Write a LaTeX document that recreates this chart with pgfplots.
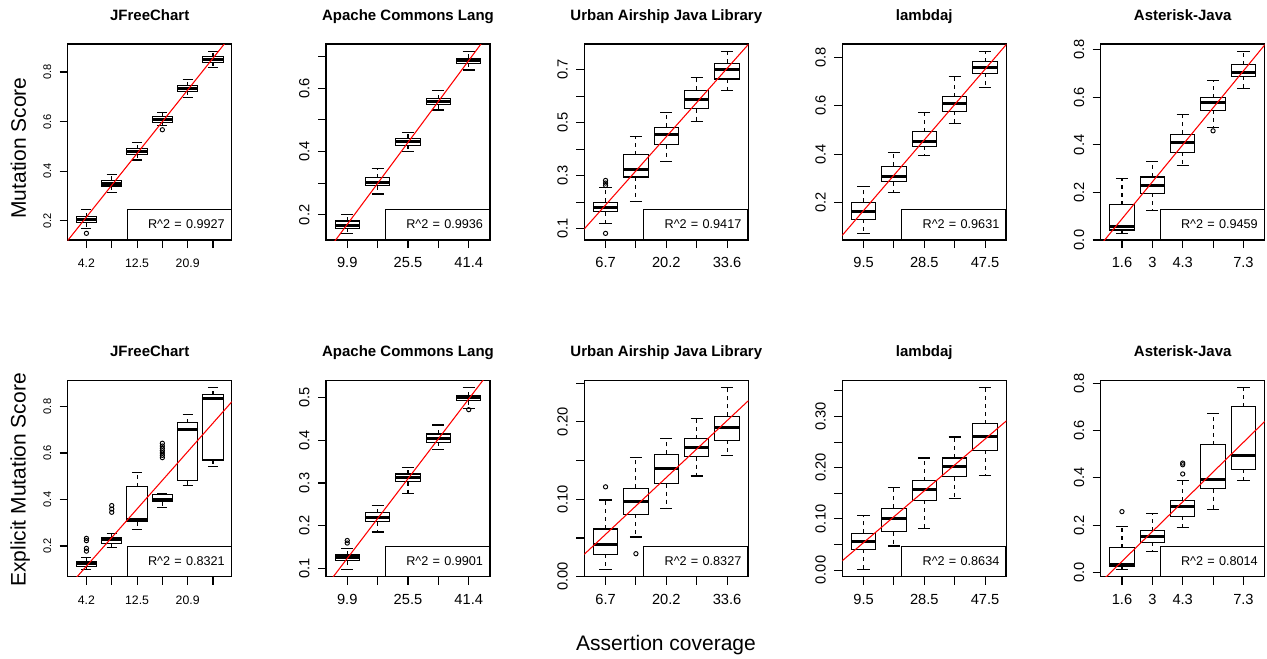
\documentclass[border=0pt]{standalone}
\usepackage{fontspec}
\setmainfont{Liberation Sans}
\usepackage{pgfplots}
\pgfplotsset{compat=1.18}
\usepgfplotslibrary{statistics}

\pgfplotsset{
  boxplot/draw/lower whisker/.code={%
    \draw[dash pattern=on 3pt off 3pt] (boxplot box cs:\pgfplotsboxplotvalue{lower quartile},0.5) -- (boxplot box cs:\pgfplotsboxplotvalue{lower whisker},0.5);
    \draw[solid] (boxplot whisker cs:\pgfplotsboxplotvalue{lower whisker},0) -- (boxplot whisker cs:\pgfplotsboxplotvalue{lower whisker},1);
  },
  boxplot/draw/upper whisker/.code={%
    \draw[dash pattern=on 3pt off 3pt] (boxplot box cs:\pgfplotsboxplotvalue{upper quartile},0.5) -- (boxplot box cs:\pgfplotsboxplotvalue{upper whisker},0.5);
    \draw[solid] (boxplot whisker cs:\pgfplotsboxplotvalue{upper whisker},0) -- (boxplot whisker cs:\pgfplotsboxplotvalue{upper whisker},1);
  },
  boxplot/every median/.style={line width=2.25pt},
  rbox/.style={black, solid, line width=0.8pt, mark=o, mark size=1.6pt, mark options={solid, line width=0.7pt}},
  rbase/.style={
    scale only axis, width=123pt, height=147pt,
    anchor=south west,
    axis line style={line width=0.8pt},
    tick align=outside, tick pos=left,
    major tick length=6pt,
    tick style={black, line width=0.8pt},
    minor tick num=0,
    boxplot/draw direction=y,
    boxplot/box extend=0.8,
    boxplot/whisker extend=0.4,
    title style={font=\bfseries\fontsize{11.25}{13}\selectfont, at={(0.5,1)}, anchor=base, yshift=11.9pt},
    xticklabel style={anchor=base, yshift=-14.5pt},
    yticklabel style={xshift=-6.5pt, rotate=90, anchor=base},
    tick label style={font=\fontsize{11}{13}\selectfont},
    /pgf/number format/assume math mode=true,
    scaled ticks=false,
    clip=true,
  },
  six/.style={xmin=0.26, xmax=6.74, xtick={1,2,3,4,5,6}},
  five/.style={xmin=0.3, xmax=5.7, xtick={1,2,3,4,5}},
  small/.style={xticklabel style={font=\fontsize{9.2}{11}\selectfont}, yticklabel style={font=\fontsize{8.3}{10}\selectfont}},
}

\newcommand\bx[6]{\addplot[boxplot prepared={draw position=#1, lower whisker=#2, lower quartile=#3, median=#4, upper quartile=#5, upper whisker=#6}, rbox] coordinates {};}
\newcommand\bxo[7]{\addplot[boxplot prepared={draw position=#1, lower whisker=#2, lower quartile=#3, median=#4, upper quartile=#5, upper whisker=#6}, rbox] coordinates {#7};}
\newcommand\rsq[1]{\node[draw, fill=white, line width=0.8pt, anchor=south east, minimum height=22.5pt, text width=68.4pt, inner xsep=4.8pt, inner ysep=0pt, align=right, font=\fontsize{9.5}{11}\selectfont] at (rel axis cs:1,0) {R\textasciicircum 2 = #1};}

\begin{document}
\begin{tikzpicture}
\path[use as bounding box] (0,0) rectangle (950.25pt,-493.5pt);

% ---------------- top row ----------------
\begin{axis}[rbase, six, small, at={(67.7*0.75pt,-240*0.75pt)},
  ymin=0.122, ymax=0.913, ytick={0.2,0.4,0.6,0.8}, yticklabels={0.2,0.4,0.6,0.8},
  xticklabels={4.2,{},12.5,{},20.9,{}}, title={JFreeChart}]
\bxo{1}{0.169}{0.192}{0.205}{0.216}{0.247}{(0,0.149)}
\bx{2}{0.315}{0.340}{0.352}{0.364}{0.385}
\bx{3}{0.445}{0.468}{0.479}{0.491}{0.516}
\bxo{4}{0.583}{0.598}{0.610}{0.619}{0.637}{(0,0.567)}
\bx{5}{0.698}{0.723}{0.734}{0.745}{0.768}
\bx{6}{0.820}{0.839}{0.850}{0.861}{0.881}
\addplot[red, line width=0.8pt, no marks] coordinates {(0,0.0866) (7,0.9839)};
\rsq{0.9927}
\end{axis}

\begin{axis}[rbase, five, at={(326*0.75pt,-240*0.75pt)},
  ymin=0.121, ymax=0.739, ytick={0.2,0.3,0.4,0.5,0.6,0.7}, yticklabels={0.2,{},0.4,{},0.6,{}},
  xticklabels={9.9,{},25.5,{},41.4}, title={Apache Commons Lang}]
\bx{1}{0.142}{0.158}{0.167}{0.181}{0.200}
\bx{2}{0.266}{0.292}{0.303}{0.317}{0.346}
\bx{3}{0.399}{0.420}{0.431}{0.442}{0.461}
\bx{4}{0.531}{0.548}{0.558}{0.567}{0.591}
\bx{5}{0.657}{0.678}{0.686}{0.694}{0.715}
\addplot[red, line width=0.8pt, no marks] coordinates {(0,0.0413) (7,0.9452)};
\rsq{0.9936}
\end{axis}

\begin{axis}[rbase, five, at={(584.3*0.75pt,-240*0.75pt)},
  ymin=0.057, ymax=0.797, ytick={0.1,0.2,0.3,0.4,0.5,0.6,0.7}, yticklabels={0.1,{},0.3,{},0.5,{},0.7},
  xticklabels={6.7,{},20.2,{},33.6}, title={Urban Airship Java Library}]
\bxo{1}{0.118}{0.163}{0.178}{0.200}{0.255}{(0,0.082) (0,0.263) (0,0.272) (0,0.282)}
\bx{2}{0.203}{0.295}{0.324}{0.379}{0.448}
\bx{3}{0.352}{0.416}{0.454}{0.483}{0.540}
\bx{4}{0.503}{0.553}{0.587}{0.622}{0.671}
\bx{5}{0.623}{0.665}{0.699}{0.725}{0.768}
\addplot[red, line width=0.8pt, no marks] coordinates {(0,0.0603) (7,0.9628)};
\rsq{0.9417}
\end{axis}

\begin{axis}[rbase, five, at={(842.3*0.75pt,-240*0.75pt)},
  ymin=0.0455, ymax=0.855, ytick={0.2,0.4,0.6,0.8}, yticklabels={0.2,0.4,0.6,0.8},
  xticklabels={9.5,{},28.5,{},47.5}, title={lambdaj}]
\bx{1}{0.073}{0.131}{0.164}{0.201}{0.266}
\bx{2}{0.241}{0.286}{0.308}{0.350}{0.407}
\bx{3}{0.393}{0.433}{0.452}{0.492}{0.572}
\bx{4}{0.528}{0.578}{0.610}{0.637}{0.721}
\bx{5}{0.677}{0.734}{0.757}{0.781}{0.823}
\addplot[red, line width=0.8pt, no marks] coordinates {(0,0.0213) (7,1.0426)};
\rsq{0.9631}
\end{axis}

\begin{axis}[rbase, five, at={(1100.7*0.75pt,-240*0.75pt)},
  ymin=0, ymax=0.824, ytick={0,0.2,0.4,0.6,0.8}, yticklabels={0.0,0.2,0.4,0.6,0.8},
  xticklabels={1.6,3,4.3,{},7.3}, title={Asterisk-Java}]
\bx{1}{0.028}{0.042}{0.055}{0.149}{0.257}
\bx{2}{0.124}{0.196}{0.229}{0.265}{0.331}
\bx{3}{0.312}{0.369}{0.410}{0.445}{0.529}
\bxo{4}{0.473}{0.545}{0.580}{0.598}{0.672}{(0,0.459)}
\bx{5}{0.637}{0.689}{0.706}{0.737}{0.792}
\addplot[red, line width=0.8pt, no marks] coordinates {(0,-0.0668) (7,1.0224)};
\rsq{0.9459}
\end{axis}

% ---------------- bottom row ----------------
\begin{axis}[rbase, six, small, at={(67.7*0.75pt,-576.7*0.75pt)},
  ymin=0.068, ymax=0.911, ytick={0.2,0.4,0.6,0.8}, yticklabels={0.2,0.4,0.6,0.8},
  xticklabels={4.2,{},12.5,{},20.9,{}}, title={JFreeChart}]
\bxo{1}{0.100}{0.112}{0.124}{0.135}{0.150}{(0,0.178) (0,0.190) (0,0.223) (0,0.233)}
\bxo{2}{0.193}{0.211}{0.226}{0.237}{0.253}{(0,0.345) (0,0.359) (0,0.374)}
\bx{3}{0.273}{0.305}{0.313}{0.454}{0.516}
\bxo{4}{0.365}{0.391}{0.402}{0.422}{0.424}{(0,0.580) (0,0.590) (0,0.600) (0,0.610) (0,0.620) (0,0.630) (0,0.642)}
\bx{5}{0.460}{0.480}{0.700}{0.730}{0.766}
\bx{6}{0.544}{0.570}{0.836}{0.850}{0.880}
\addplot[red, line width=0.8pt, no marks] coordinates {(0,-0.0098) (7,0.8518)};
\rsq{0.8321}
\end{axis}

\begin{axis}[rbase, five, at={(326*0.75pt,-576.7*0.75pt)},
  ymin=0.080, ymax=0.540, ytick={0.1,0.2,0.3,0.4,0.5}, yticklabels={0.1,0.2,0.3,0.4,0.5},
  xticklabels={9.9,{},25.5,{},41.4}, title={Apache Commons Lang}]
\bxo{1}{0.098}{0.117}{0.124}{0.131}{0.146}{(0,0.159) (0,0.165)}
\bx{2}{0.185}{0.209}{0.220}{0.230}{0.247}
\bx{3}{0.276}{0.303}{0.312}{0.321}{0.337}
\bx{4}{0.379}{0.395}{0.404}{0.415}{0.436}
\bxo{5}{0.475}{0.493}{0.500}{0.505}{0.523}{(0,0.472)}
\addplot[red, line width=0.8pt, no marks] coordinates {(0,0.0295) (7,0.6842)};
\rsq{0.9901}
\end{axis}

\begin{axis}[rbase, five, at={(584.3*0.75pt,-576.7*0.75pt)},
  ymin=0, ymax=0.253, ytick={0,0.05,0.1,0.15,0.2,0.25}, yticklabels={0.00,{},0.10,{},0.20,{}},
  xticklabels={6.7,{},20.2,{},33.6}, title={Urban Airship Java Library}]
\bxo{1}{0.0095}{0.0289}{0.0422}{0.0616}{0.099}{(0,0.116)}
\bxo{2}{0.0513}{0.0806}{0.097}{0.114}{0.154}{(0,0.0297)}
\bx{3}{0.0875}{0.120}{0.140}{0.158}{0.178}
\bx{4}{0.130}{0.155}{0.167}{0.178}{0.204}
\bx{5}{0.157}{0.176}{0.192}{0.207}{0.244}
\addplot[red, line width=0.8pt, no marks] coordinates {(0,0.0180) (7,0.2748)};
\rsq{0.8327}
\end{axis}

\begin{axis}[rbase, five, at={(842.3*0.75pt,-576.7*0.75pt)},
  ymin=-0.013, ymax=0.370, ytick={0,0.05,0.1,0.15,0.2,0.25,0.3,0.35}, yticklabels={0.00,{},0.10,{},0.20,{},0.30,{}},
  xticklabels={9.5,{},28.5,{},47.5}, title={lambdaj}]
\bx{1}{0.0013}{0.0405}{0.0561}{0.0718}{0.107}
\bx{2}{0.047}{0.0751}{0.0999}{0.121}{0.161}
\bx{3}{0.0816}{0.136}{0.158}{0.175}{0.219}
\bx{4}{0.139}{0.182}{0.202}{0.219}{0.260}
\bx{5}{0.184}{0.234}{0.261}{0.286}{0.357}
\addplot[red, line width=0.8pt, no marks] coordinates {(0,0.0031) (7,0.3571)};
\rsq{0.8634}
\end{axis}

\begin{axis}[rbase, five, at={(1100.7*0.75pt,-576.7*0.75pt)},
  ymin=-0.018, ymax=0.810, ytick={0,0.2,0.4,0.6,0.8}, yticklabels={0.0,0.2,0.4,0.6,0.8},
  xticklabels={1.6,3,4.3,{},7.3}, title={Asterisk-Java}]
\bxo{1}{0.0127}{0.0268}{0.0353}{0.104}{0.195}{(0,0.257)}
\bx{2}{0.0875}{0.127}{0.152}{0.176}{0.248}
\bxo{3}{0.189}{0.238}{0.278}{0.303}{0.388}{(0,0.416) (0,0.455) (0,0.462)}
\bx{4}{0.264}{0.354}{0.394}{0.540}{0.672}
\bx{5}{0.388}{0.436}{0.492}{0.701}{0.782}
\addplot[red, line width=0.8pt, no marks] coordinates {(0,-0.0788) (7,0.8013)};
\rsq{0.8014}
\end{axis}

% ---------------- outer labels ----------------
\node[rotate=90, anchor=base, font=\fontsize{15.75}{18}\selectfont] at (26*0.75pt,-148*0.75pt) {Mutation Score};
\node[rotate=90, anchor=base, font=\fontsize{15.75}{18}\selectfont] at (25.5*0.75pt,-480*0.75pt) {Explicit Mutation Score};
\node[anchor=base, font=\fontsize{15.75}{18}\selectfont] at (666*0.75pt,-650*0.75pt) {Assertion coverage};
\end{tikzpicture}
\end{document}
